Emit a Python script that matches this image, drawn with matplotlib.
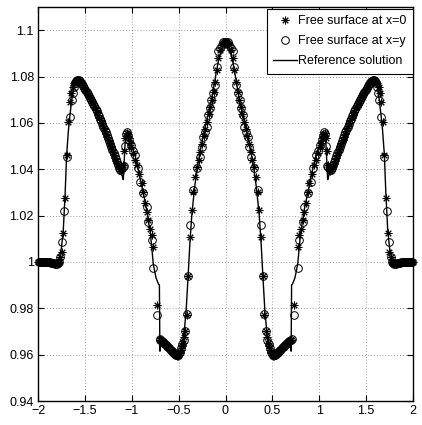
import numpy as np
import matplotlib
matplotlib.use("Agg")
import matplotlib.pyplot as plt

plt.rcParams['font.family'] = ['Liberation Sans', 'DejaVu Sans']

# ---------------- data (left half, x <= 0; the solution is symmetric about x = 0) -------------
ref_x_left = [-2.0, -1.9, -1.82, -1.79, -1.775, -1.765, -1.75, -1.73, -1.71, -1.695, -1.675,
              -1.66, -1.64, -1.62, -1.60, -1.58, -1.56, -1.50, -1.45, -1.40, -1.35, -1.30,
              -1.25, -1.20, -1.15, -1.12, -1.10, -1.09, -1.08, -1.07, -1.055, -1.04, -1.02,
              -1.0, -0.965, -0.93, -0.90, -0.876, -0.84, -0.80, -0.77, -0.74, -0.715, -0.705,
              -0.70, -0.695, -0.68, -0.65, -0.60, -0.55, -0.52, -0.50, -0.48, -0.46, -0.44,
              -0.42, -0.40, -0.38, -0.36, -0.33, -0.30, -0.25, -0.20, -0.15, -0.10, -0.07,
              -0.04, -0.02, 0.0]
ref_y_left = [1.0, 1.0, 0.9995, 0.9993, 1.0, 1.003, 1.006, 1.014, 1.03, 1.046, 1.057,
              1.063, 1.070, 1.075, 1.0775, 1.0785, 1.078, 1.0745, 1.071, 1.0675, 1.0625, 1.058,
              1.0525, 1.047, 1.0415, 1.039, 1.037, 1.0355, 1.044, 1.052, 1.0555, 1.055, 1.052,
              1.050, 1.046, 1.040, 1.034, 1.0296, 1.0225, 1.012, 0.999, 0.993, 0.9905, 0.990,
              0.9615, 0.967, 0.9665, 0.9655, 0.9635, 0.961, 0.9598, 0.9595, 0.961, 0.964, 0.970,
              0.979, 0.993, 1.008, 1.020, 1.032, 1.041, 1.052, 1.061, 1.0695, 1.0815, 1.088,
              1.092, 1.094, 1.0948]

star_x_left = [-1.995, -1.982, -1.970, -1.958, -1.946, -1.934, -1.922, -1.910, -1.898, -1.886,
               -1.874, -1.862, -1.850, -1.838, -1.826, -1.814, -1.802, -1.790, -1.778,
               -1.765, -1.747, -1.730, -1.712, -1.694, -1.677, -1.659, -1.645, -1.632, -1.620,
               -1.608, -1.596, -1.584, -1.572, -1.560, -1.548,
               -1.536, -1.524, -1.512, -1.500, -1.488, -1.476, -1.464, -1.452, -1.440, -1.428,
               -1.416, -1.404, -1.392, -1.380, -1.368, -1.356, -1.344, -1.332, -1.320, -1.308,
               -1.296, -1.284, -1.272, -1.260, -1.248, -1.236, -1.224, -1.212, -1.200, -1.188,
               -1.176, -1.164, -1.152, -1.140, -1.128, -1.116, -1.104,
               -1.092, -1.080, -1.068, -1.056, -1.044, -1.032, -1.020, -1.006,
               -0.985, -0.965, -0.947, -0.925, -0.894, -0.876, -0.859, -0.840, -0.823, -0.805,
               -0.787, -0.769, -0.734,
               -0.700, -0.692, -0.684, -0.676, -0.668, -0.660, -0.652, -0.644, -0.636, -0.628,
               -0.620, -0.612, -0.604, -0.596, -0.588, -0.580, -0.572, -0.564, -0.556, -0.548,
               -0.540, -0.532, -0.524, -0.516, -0.508, -0.500, -0.490, -0.478, -0.466, -0.455,
               -0.440, -0.430, -0.414, -0.397, -0.379, -0.361, -0.343, -0.325, -0.300, -0.285,
               -0.268, -0.250, -0.232, -0.215, -0.198, -0.180, -0.163, -0.146, -0.128, -0.110,
               -0.092, -0.075, -0.058, -0.040, -0.022, -0.007]
star_y_left = [1.0000, 1.0000, 1.0000, 1.0000, 1.0000, 1.0000, 1.0000, 1.0000, 0.9999, 0.9999,
               0.9998, 0.9997, 0.9996, 0.9995, 0.9994, 0.9993, 0.9993, 0.9994, 0.9998,
               1.0020, 1.0044, 1.0124, 1.0276, 1.0461, 1.0605, 1.0692, 1.0730, 1.0755, 1.0770,
               1.0778, 1.0782, 1.0784, 1.0783, 1.0780, 1.0775,
               1.0771, 1.0764, 1.0756, 1.0747, 1.0739, 1.0730, 1.0721, 1.0712, 1.0703, 1.0694,
               1.0685, 1.0676, 1.0667, 1.0656, 1.0645, 1.0634, 1.0622, 1.0611, 1.0600, 1.0588,
               1.0577, 1.0565, 1.0552, 1.0540, 1.0527, 1.0514, 1.0501, 1.0488, 1.0475, 1.0462,
               1.0449, 1.0436, 1.0423, 1.0411, 1.0400, 1.0392, 1.0400,
               1.0420, 1.0480, 1.0535, 1.0555, 1.0550, 1.0535, 1.0515, 1.0495,
               1.0470, 1.0440, 1.0418, 1.0380, 1.0339, 1.0300, 1.0253, 1.0215, 1.0180, 1.0140,
               1.0115, 1.0065, 0.9813,
               0.9665, 0.9662, 0.9660, 0.9657, 0.9654, 0.9651, 0.9648, 0.9645, 0.9642, 0.9638,
               0.9635, 0.9631, 0.9627, 0.9623, 0.9619, 0.9616, 0.9612, 0.9608, 0.9605, 0.9602,
               0.9600, 0.9598, 0.9597, 0.9596, 0.9596, 0.9598, 0.9605, 0.9620, 0.9638, 0.9650,
               0.9675, 0.9700, 0.9770, 0.9940, 1.0107, 1.0224, 1.0300, 1.0367, 1.0410, 1.0440,
               1.0475, 1.0510, 1.0545, 1.0575, 1.0605, 1.0640, 1.0670, 1.0700, 1.0735, 1.0775,
               1.0830, 1.0880, 1.0915, 1.0935, 1.0945, 1.0950]

circ_x_left = [-1.990, -1.977, -1.965, -1.952, -1.940, -1.927, -1.915, -1.902, -1.890, -1.877,
               -1.865, -1.852, -1.840, -1.827, -1.815, -1.802, -1.790, -1.777,
               -1.765, -1.741, -1.720, -1.694, -1.659, -1.640, -1.628, -1.616, -1.604, -1.592,
               -1.580, -1.568, -1.556, -1.544,
               -1.530, -1.518, -1.506, -1.494, -1.482, -1.470, -1.458, -1.446, -1.434, -1.422,
               -1.410, -1.398, -1.386, -1.374, -1.362, -1.350, -1.338, -1.326, -1.314, -1.302,
               -1.290, -1.278, -1.266, -1.254, -1.242, -1.230, -1.218, -1.206, -1.194, -1.182,
               -1.170, -1.158, -1.146, -1.134, -1.122, -1.110,
               -1.098, -1.086, -1.074, -1.062, -1.050, -1.038, -1.026, -1.012,
               -0.990, -0.965, -0.930, -0.912, -0.876, -0.840, -0.823, -0.787, -0.769, -0.734,
               -0.704, -0.694, -0.682, -0.670, -0.658, -0.646, -0.634, -0.622, -0.610, -0.598,
               -0.586, -0.574, -0.562, -0.550, -0.538, -0.526, -0.514, -0.502,
               -0.488, -0.474, -0.460, -0.445, -0.432, -0.414, -0.397, -0.379, -0.343, -0.307,
               -0.272, -0.254, -0.237, -0.219, -0.201, -0.183, -0.165, -0.150, -0.131, -0.112,
               -0.094, -0.076, -0.058, -0.040, -0.022, -0.005]
circ_y_left = [1.0000, 1.0000, 1.0000, 1.0000, 1.0000, 1.0000, 1.0000, 0.9999, 0.9999, 0.9998,
               0.9997, 0.9996, 0.9995, 0.9994, 0.9993, 0.9993, 0.9994, 0.9998,
               1.0022, 1.0087, 1.0220, 1.0454, 1.0627, 1.0700, 1.0730, 1.0755, 1.0772, 1.0780,
               1.0784, 1.0783, 1.0779, 1.0773,
               1.0767, 1.0760, 1.0752, 1.0743, 1.0735, 1.0726, 1.0717, 1.0708, 1.0699, 1.0690,
               1.0681, 1.0672, 1.0662, 1.0651, 1.0640, 1.0628, 1.0617, 1.0606, 1.0594, 1.0583,
               1.0571, 1.0559, 1.0546, 1.0534, 1.0521, 1.0508, 1.0495, 1.0482, 1.0469, 1.0456,
               1.0443, 1.0430, 1.0417, 1.0405, 1.0396, 1.0405,
               1.0410, 1.0415, 1.0500, 1.0550, 1.0560, 1.0545, 1.0525, 1.0505,
               1.0480, 1.0460, 1.0404, 1.0346, 1.0296, 1.0238, 1.0173, 1.0094, 0.9972, 0.9770,
               0.9668, 0.9664, 0.9660, 0.9656, 0.9652, 0.9648, 0.9643, 0.9638, 0.9633, 0.9627,
               0.9621, 0.9616, 0.9611, 0.9606, 0.9602, 0.9599, 0.9597, 0.9597,
               0.9610, 0.9630, 0.9645, 0.9665, 0.9700, 0.9775, 0.9938, 1.0160, 1.0310, 1.0404,
               1.0454, 1.0497, 1.0540, 1.0560, 1.0584, 1.0634, 1.0663, 1.0700, 1.0730, 1.0764,
               1.0843, 1.0908, 1.0925, 1.0937, 1.0947, 1.0951]

legend_labels = ['Free surface at x=0', 'Free surface at x=y', 'Reference solution']
xticks = [-2, -1.5, -1, -0.5, 0, 0.5, 1, 1.5, 2]
xtick_labels = ['\u22122', '\u22121.5', '\u22121', '\u22120.5', '0', '0.5', '1', '1.5', '2']
yticks = [0.94, 0.96, 0.98, 1.0, 1.02, 1.04, 1.06, 1.08, 1.1]
ytick_labels = ['0.94', '0.96', '0.98', '1', '1.02', '1.04', '1.06', '1.08', '1.1']


def mirror(xl, yl):
    xl = np.asarray(xl)
    yl = np.asarray(yl)
    return (np.concatenate([xl, -xl[::-1]]), np.concatenate([yl, yl[::-1]]))


ref_x, ref_y = mirror(ref_x_left, ref_y_left)
star_x, star_y = mirror(star_x_left, star_y_left)
circ_x, circ_y = mirror(circ_x_left, circ_y_left)

# ---------------- figure ----------------
fig = plt.figure(figsize=(4.22, 4.25), dpi=100)
ax = fig.add_axes([38 / 422, 1 - 401 / 425, (413 - 38) / 422, (401 - 7) / 425])

ax.plot(star_x, star_y, linestyle='none', marker=(8, 2, 0), ms=5.5, mew=0.7,
        color='black', label=legend_labels[0], clip_on=False, zorder=3)
ax.plot(circ_x, circ_y, linestyle='none', marker='o', ms=5.5, mew=0.7,
        mfc='none', mec='black', label=legend_labels[1], clip_on=False, zorder=3)
ax.plot(ref_x, ref_y, '-', color='black', lw=1.0, label=legend_labels[2], zorder=2)

ax.set_xlim(-2, 2)
ax.set_ylim(0.94, 1.11)
ax.set_xticks(xticks)
ax.set_xticklabels(xtick_labels)
ax.set_yticks(yticks)
ax.set_yticklabels(ytick_labels)
ax.tick_params(direction='in', length=4, width=0.8, top=True, right=True,
               labelsize=9, pad=3, colors='black')
ax.grid(True, linestyle=(0, (1, 2.5)), color='0.5', linewidth=0.6)
for s in ax.spines.values():
    s.set_linewidth(1.0)
    s.set_color('black')

leg = ax.legend(loc='upper right', bbox_to_anchor=(1.0, 1.0 - 2.0 / 394), fontsize=9,
                frameon=True, fancybox=False, edgecolor='black', framealpha=1,
                borderaxespad=0.0, handlelength=1.9, handletextpad=0.15,
                labelspacing=0.65, borderpad=0.5)
leg.get_frame().set_linewidth(0.8)

fig.savefig('out.png', dpi=100)
